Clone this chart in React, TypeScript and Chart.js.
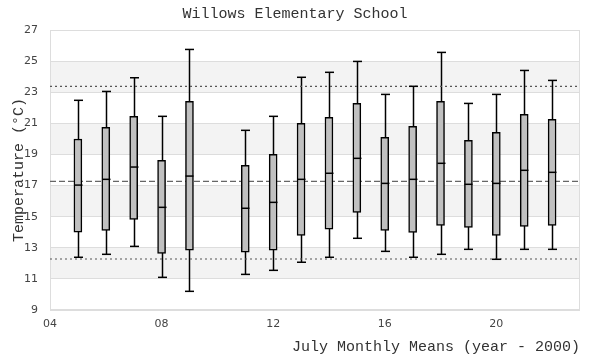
import React, { useEffect, useRef } from "react";
import { Chart, registerables } from "chart.js";

Chart.register(...registerables);

const years = [5, 6, 7, 8, 9, 11, 12, 13, 14, 15, 16, 17, 18, 19, 20, 21, 22];
const whiskerLow = [12.39, 12.58, 13.09, 11.1, 10.2, 11.29, 11.55, 12.07, 12.39, 13.61, 12.77, 12.39, 12.58, 12.9, 12.26, 12.9, 12.9];
const q1 = [14.01, 14.12, 14.83, 12.64, 12.84, 12.71, 12.84, 13.8, 14.19, 15.28, 14.12, 13.99, 14.44, 14.31, 13.8, 14.38, 14.44];
const medians = [17.03, 17.4, 18.19, 15.6, 17.61, 15.54, 15.92, 17.4, 17.79, 18.75, 17.14, 17.4, 18.43, 17.08, 17.14, 17.98, 17.85];
const q3 = [19.99, 20.74, 21.45, 18.62, 22.41, 18.3, 19.01, 21.0, 21.38, 22.28, 20.1, 20.81, 22.41, 19.91, 20.42, 21.58, 21.26];
const whiskerHigh = [22.48, 23.05, 23.93, 21.45, 25.75, 20.55, 21.45, 23.96, 24.28, 24.98, 22.86, 23.38, 25.56, 22.28, 22.86, 24.4, 23.76];

const upperRef = 23.38;
const meanRef = 17.27;
const lowerRef = 12.28;

const xMin = 4;
const xMax = 23;
const xTickStep = 4;
const yMin = 9;
const yMax = 27;
const shadedBands = [[11, 13], [15, 17], [19, 21], [23, 25]];

const titleText = "Willows Elementary School";
const xTitle = "July Monthly Means (year - 2000)";
const yTitle = "Temperature (°C)";

const monoFont = "'Liberation Mono', 'DejaVu Sans Mono', monospace";
const tickFont = "'DejaVu Sans', sans-serif";

const boxPlugin = {
  id: "boxExtras",
  beforeDraw(chart: any) {
    const { ctx, chartArea, scales } = chart;
    const y = scales.y;
    ctx.save();
    ctx.fillStyle = "#f3f3f3";
    for (const [a, b] of shadedBands) {
      const top = y.getPixelForValue(b);
      const bot = y.getPixelForValue(a);
      ctx.fillRect(chartArea.left, top, chartArea.right - chartArea.left, bot - top);
    }
    ctx.restore();
  },
  beforeDatasetsDraw(chart: any) {
    const { ctx, chartArea, scales } = chart;
    const x = scales.x;
    const y = scales.y;
    ctx.save();
    ctx.strokeStyle = "#dddddd";
    ctx.lineWidth = 1;
    ctx.strokeRect(chartArea.left + 0.5, chartArea.top + 0.5, chartArea.right - chartArea.left - 1, chartArea.bottom - chartArea.top - 1);
    ctx.strokeStyle = "#000";
    ctx.lineWidth = 1.5;
    years.forEach((yr, i) => {
      const px = Math.round(x.getPixelForValue(yr)) + 0.5;
      ctx.beginPath();
      ctx.moveTo(px, y.getPixelForValue(whiskerLow[i]));
      ctx.lineTo(px, y.getPixelForValue(whiskerHigh[i]));
      ctx.stroke();
    });
    ctx.restore();
  },
  afterDatasetsDraw(chart: any) {
    const { ctx, scales } = chart;
    const x = scales.x;
    const y = scales.y;
    ctx.save();
    ctx.strokeStyle = "#000";
    ctx.lineWidth = 1.5;
    years.forEach((yr, i) => {
      const px = Math.round(x.getPixelForValue(yr)) + 0.5;
      const caps = [whiskerLow[i], whiskerHigh[i]];
      for (const c of caps) {
        const py = y.getPixelForValue(c);
        ctx.beginPath();
        ctx.moveTo(px - 4.5, py);
        ctx.lineTo(px + 4.5, py);
        ctx.stroke();
      }
      const pm = y.getPixelForValue(medians[i]);
      ctx.beginPath();
      ctx.moveTo(px - 4, pm);
      ctx.lineTo(px + 4, pm);
      ctx.stroke();
    });
    ctx.restore();
  },
};

function refLine(value: number, dash: number[], color: string) {
  return {
    type: "line" as const,
    data: [
      { x: xMin, y: value },
      { x: xMax, y: value },
    ],
    borderColor: color,
    borderWidth: 1.2,
    borderDash: dash,
    pointRadius: 0,
    fill: false,
    order: 2,
  };
}

export default function App() {
  const canvasRef = useRef<HTMLCanvasElement | null>(null);
  useEffect(() => {
    document.body.style.margin = "0";
    const canvas = canvasRef.current;
    if (!canvas) return;
    const chart = new Chart(canvas, {
      type: "bar",
      data: {
        datasets: [
          {
            type: "bar",
            data: years.map((yr, i) => ({ x: yr, y: [q1[i], q3[i]] })) as any,
            backgroundColor: "#c0c0c0",
            borderColor: "#000",
            borderWidth: 1.5,
            borderSkipped: false,
            barThickness: 8,
            order: 1,
          } as any,
          refLine(upperRef, [2, 3], "#555"),
          refLine(meanRef, [6, 3], "#666"),
          refLine(lowerRef, [2, 3], "#555"),
        ],
      },
      options: {
        animation: false,
        responsive: false,
        maintainAspectRatio: false,
        layout: { padding: { left: 10, right: 20, top: 0, bottom: 0 } },
        plugins: {
          legend: { display: false },
          tooltip: { enabled: false },
          title: {
            display: true,
            text: titleText,
            color: "#333",
            font: { family: monoFont, size: 15, weight: "normal" },
            padding: { top: 5, bottom: 7 },
          },
        },
        scales: {
          x: {
            type: "linear",
            min: xMin,
            max: xMax,
            offset: false,
            grid: { display: false, drawTicks: false },
            border: { display: false },
            afterBuildTicks: (scale: any) => {
              scale.ticks = scale.ticks.filter((t: any) => t.value % xTickStep === 0);
            },
            afterFit: (scale: any) => {
              scale.height = 50;
            },
            ticks: {
              stepSize: xTickStep,
              color: "#444",
              font: { family: tickFont, size: 11 },
              padding: 8,
              callback: (v: any) => String(v).padStart(2, "0"),
            },
            title: {
              display: true,
              text: xTitle,
              align: "end",
              color: "#333",
              font: { family: monoFont, size: 15, weight: "normal" },
              padding: { top: 4, bottom: 4 },
            },
          },
          y: {
            min: yMin,
            max: yMax,
            grid: { color: "#dddddd", drawTicks: false },
            border: { display: false },
            afterFit: (scale: any) => {
              scale.width = 40;
            },
            ticks: {
              stepSize: 2,
              color: "#444",
              font: { family: tickFont, size: 11 },
              padding: 12,
            },
            title: {
              display: true,
              text: yTitle,
              color: "#333",
              font: { family: monoFont, size: 15, weight: "normal" },
              padding: { top: 0, bottom: 0 },
            },
          },
        },
      },
      plugins: [boxPlugin],
    } as any);
    return () => chart.destroy();
  }, []);
  return (
    <div style={{ width: 600, height: 360 }}>
      <canvas ref={canvasRef} width={600} height={360} />
    </div>
  );
}
